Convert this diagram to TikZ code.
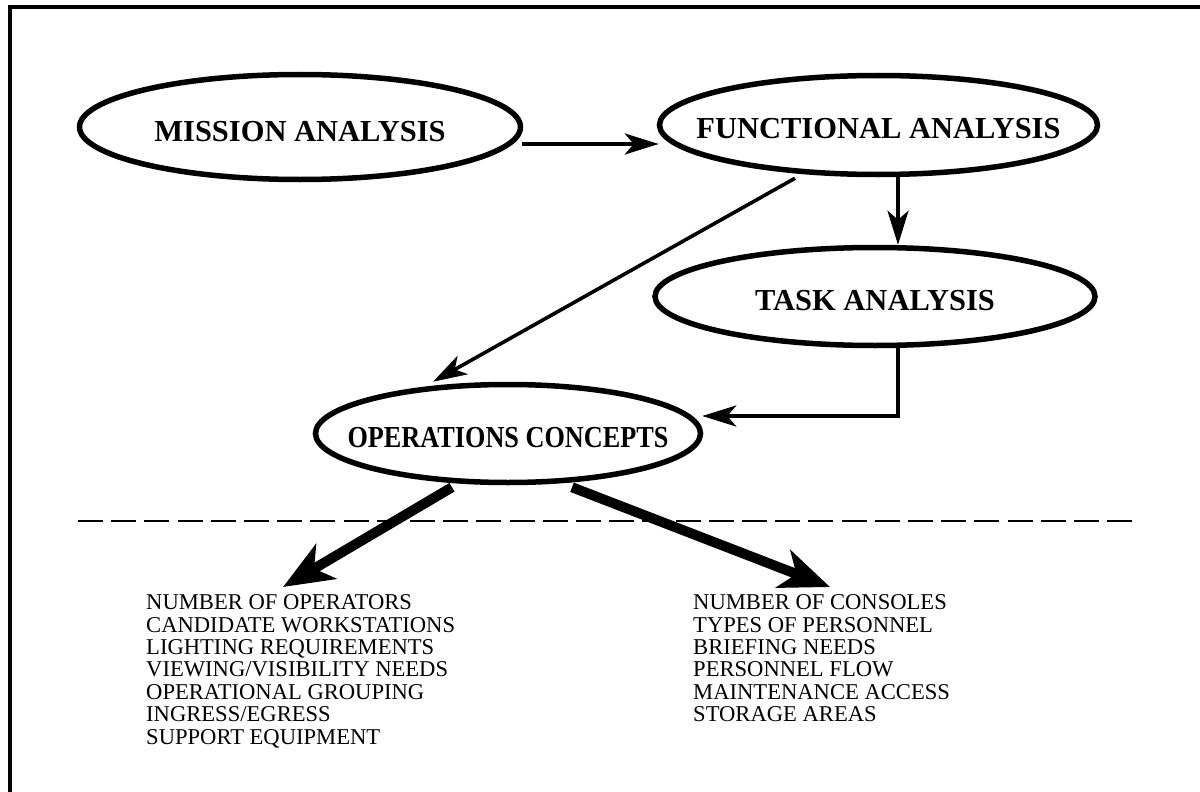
\documentclass[tikz,border=0pt]{standalone}
\usepackage{fontspec}
\setmainfont{Liberation Serif}
\usetikzlibrary{arrows.meta,shapes.geometric}

\begin{document}
\begin{tikzpicture}[x=1pt,y=-1pt,
  phase/.style={ellipse, draw, line width=5.5pt, inner sep=0pt,
    font=\fontsize{30.5}{30.5}\selectfont\bfseries, text height=28pt, text depth=0pt},
  conn/.style={line width=3.6pt, -{Stealth[length=34pt,width=21pt,inset=9pt]}},
  fat/.style={line width=10pt, -{Stealth[length=50pt,width=40pt,inset=14pt]}},
  list/.style={anchor=north west, inner sep=0pt, align=left,
    font=\fontsize{22.6}{22.4}\selectfont}]
\useasboundingbox (0,0) rectangle (1200,792);
\fill[white] (0,0) rectangle (1200,792);
\draw[line width=4pt] (10,792) -- (10,7) -- (1200,7);

\node[phase, minimum width=441pt, minimum height=105pt] (mission) at (300,127)
  {\makebox[0pt]{MISSION ANALYSIS}};
\node[phase, minimum width=438pt, minimum height=99pt] (functional) at (878.5,125)
  {\makebox[0pt]{FUNCTIONAL ANALYSIS}};
\node[phase, minimum width=440pt, minimum height=98pt] (task) at (875,296.5)
  {\makebox[0pt]{TASK ANALYSIS}};
\node[phase, minimum width=385pt, minimum height=98pt] (ops) at (508,433.5)
  {\makebox[0pt]{\scalebox{0.86}[1]{OPERATIONS CONCEPTS}}};

\draw[conn] ([shift={(-1,17)}]mission.east) -- ([shift={(2,19)}]functional.west);
\draw[conn] ([xshift=19.5pt]functional.south) -- ([xshift=19.5pt]functional.south |- task.north);
\draw[conn] ([shift={(-83.5,1)}]functional.south) -- ([shift={(-75,0)}]ops.north);
\draw[conn] ([xshift=23pt]task.south) |- ([shift={(-1,-17.5)}]ops.east);

\draw[line width=2.5pt, dash pattern=on 25pt off 8.2pt] (78,521) -- (1136,521);

\node[list] (leftlist) at (146,594.5) {NUMBER OF OPERATORS\\CANDIDATE WORKSTATIONS\\LIGHTING REQUIREMENTS\\VIEWING/VISIBILITY NEEDS\\OPERATIONAL GROUPING\\INGRESS/EGRESS\\SUPPORT EQUIPMENT};
\node[list] (rightlist) at (693,594.5) {NUMBER OF CONSOLES\\TYPES OF PERSONNEL\\BRIEFING NEEDS\\PERSONNEL FLOW\\MAINTENANCE ACCESS\\STORAGE AREAS};

\coordinate (ltip) at (283,587);
\coordinate (rtip) at (830,587);
\draw[fat] ([shift={(-56,2)}]ops.south) -- (ltip);
\draw[fat] ([shift={(64,2)}]ops.south) -- (rtip);
\end{tikzpicture}
\end{document}
